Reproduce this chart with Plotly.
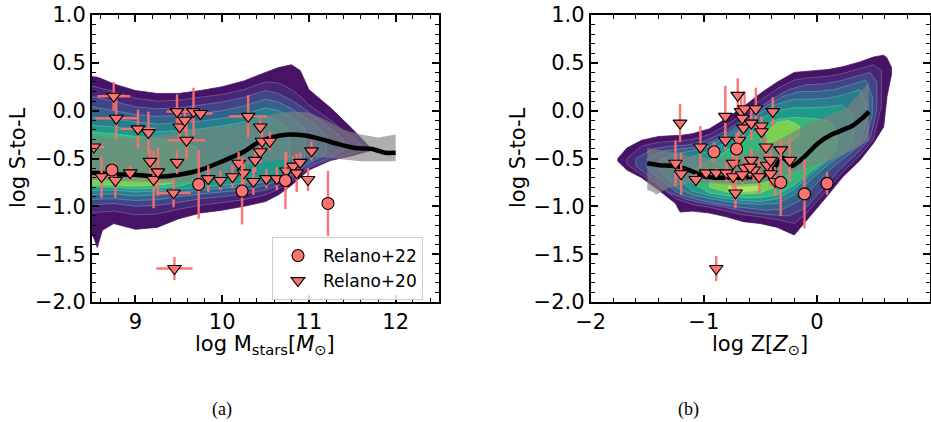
import plotly.graph_objects as go

# ---------------- Panel (a): stellar mass ----------------
A_CIRC_X = [8.73, 9.73, 10.23, 10.73, 11.22]
A_CIRC_Y = [-0.62, -0.77, -0.84, -0.73, -0.97]
A_CIRC_YERR = [0.08, 0.36, 0.35, 0.30, 0.34]

A_TRI_X = [8.52, 8.75, 8.78, 8.61, 8.77, 8.94, 9.03, 9.15, 9.17, 9.21, 9.26, 9.44, 9.48, 9.48,
           9.51, 9.57, 9.59, 9.67, 9.75, 9.84, 9.98, 10.12, 10.19, 10.25, 10.30, 10.36, 10.38,
           10.44, 10.44, 10.46, 10.55, 10.51, 10.63, 10.74, 10.82, 10.86, 10.90, 10.99, 11.03, 9.45]
A_TRI_Y = [-0.38, 0.15, -0.08, -0.69, -0.73, -0.65, -0.19, -0.23, -0.53, -0.72, -0.64, -0.86, -0.54, -0.01,
           -0.17, -0.10, -0.31, -0.01, -0.03, -0.71, -0.73, -0.69, -0.55, -0.65, -0.06, -0.74, -0.52,
           -0.43, -0.17, -0.32, -0.32, -0.71, -0.71, -0.63, -0.58, -0.65, -0.54, -0.72, -0.42, -1.65]
A_TRI_XERR = [0.12, 0.19, 0.24, 0.10, 0.0, 0.0, 0.20, 0.0, 0.0, 0.0, 0.0, 0.20, 0.0, 0.12,
              0.0, 0.08, 0.22, 0.16, 0.14, 0.0, 0.0, 0.0, 0.0, 0.0, 0.22, 0.0, 0.0,
              0.0, 0.0, 0.0, 0.0, 0.0, 0.0, 0.0, 0.0, 0.0, 0.0, 0.0, 0.0, 0.21]
A_TRI_YERR = [0.0, 0.15, 0.22, 0.22, 0.18, 0.08, 0.20, 0.22, 0.12, 0.30, 0.25, 0.15, 0.12, 0.18,
              0.15, 0.12, 0.20, 0.25, 0.05, 0.14, 0.10, 0.12, 0.12, 0.15, 0.22, 0.14, 0.12,
              0.12, 0.08, 0.12, 0.10, 0.10, 0.12, 0.20, 0.10, 0.20, 0.10, 0.12, 0.10, 0.12]

A_MED_X = [8.5, 8.75, 9.0, 9.25, 9.5, 9.75, 10.0, 10.25, 10.4, 10.57, 10.76, 10.96, 11.15, 11.34,
           11.53, 11.73, 11.88, 12.0]
A_MED_Y = [-0.65, -0.665, -0.67, -0.69, -0.67, -0.62, -0.53, -0.43, -0.34, -0.28, -0.25, -0.26,
           -0.30, -0.35, -0.39, -0.40, -0.44, -0.44]

A_BAND_X = [8.5, 8.75, 9.0, 9.25, 9.5, 9.75, 10.0, 10.2, 10.4, 10.6, 10.8, 11.0, 11.2, 11.4, 11.6, 11.8, 12.0]
A_BAND_HI = [-0.27, -0.28, -0.29, -0.26, -0.22, -0.19, -0.17, -0.15, -0.10, -0.03, -0.01, -0.02, -0.10,
             -0.20, -0.25, -0.28, -0.25]
A_BAND_LO = [-0.72, -0.73, -0.74, -0.75, -0.75, -0.73, -0.67, -0.60, -0.55, -0.52, -0.50, -0.49, -0.49,
             -0.51, -0.53, -0.53, -0.53]

# density contour levels (outer -> inner): x, upper edge, lower edge
A_LEV_X = [
    [8.45, 8.53, 8.56, 8.62, 8.75, 9.0, 9.25, 9.5, 9.75, 10.0, 10.25, 10.5, 10.65, 10.8, 10.9, 11.0, 11.25, 11.5, 11.7],
    [8.45, 8.75, 9.0, 9.25, 9.5, 9.75, 10.0, 10.25, 10.5, 10.65, 10.8, 10.9, 11.0, 11.25, 11.45, 11.62],
    [8.45, 8.75, 9.0, 9.25, 9.5, 9.75, 10.0, 10.25, 10.5, 10.65, 10.8, 10.9, 11.0, 11.2, 11.4],
    [8.45, 8.75, 9.0, 9.25, 9.5, 9.75, 10.0, 10.25, 10.5, 10.65, 10.8, 10.9, 11.0, 11.2],
    [8.45, 8.75, 9.0, 9.25, 9.5, 9.75, 10.0, 10.25, 10.5, 10.65, 10.8, 10.95],
    [8.45, 8.75, 9.0, 9.25, 9.5, 9.75, 10.0, 10.25, 10.5, 10.65, 10.78],
    [8.45, 8.75, 9.0, 9.25, 9.5, 9.7],
    [8.45, 8.75, 9.0, 9.25, 9.45],
]
A_LEV_UP = [
    [0.36, 0.35, 0.35, 0.33, 0.28, 0.21, 0.18, 0.18, 0.21, 0.25, 0.31, 0.40, 0.45, 0.48, 0.42, 0.22, 0.03, -0.19, -0.38],
    [0.27, 0.20, 0.13, 0.10, 0.11, 0.14, 0.17, 0.22, 0.30, 0.29, 0.22, 0.15, 0.06, -0.10, -0.25, -0.37],
    [0.16, 0.10, 0.04, 0.02, 0.03, 0.06, 0.09, 0.14, 0.21, 0.18, 0.11, 0.05, -0.02, -0.15, -0.30],
    [0.05, 0.0, -0.04, -0.06, -0.05, -0.03, 0.0, 0.05, 0.12, 0.09, 0.02, -0.04, -0.10, -0.25],
    [-0.06, -0.09, -0.12, -0.14, -0.13, -0.11, -0.08, -0.04, 0.03, 0.0, -0.07, -0.18],
    [-0.15, -0.17, -0.20, -0.22, -0.21, -0.19, -0.16, -0.12, -0.06, -0.10, -0.22],
    [-0.22, -0.24, -0.27, -0.29, -0.31, -0.38],
    [-0.69, -0.70, -0.71, -0.72, -0.73],
]
A_LEV_LO = [
    [-1.20, -1.35, -1.43, -1.25, -1.18, -1.24, -1.22, -1.13, -1.07, -1.04, -1.00, -0.95, -0.88, -0.78, -0.70, -0.62, -0.52, -0.47, -0.42],
    [-1.07, -1.05, -1.09, -1.08, -1.03, -0.99, -0.96, -0.93, -0.88, -0.82, -0.74, -0.67, -0.60, -0.51, -0.46, -0.41],
    [-0.99, -0.97, -1.00, -0.99, -0.96, -0.92, -0.90, -0.87, -0.83, -0.78, -0.71, -0.65, -0.58, -0.51, -0.42],
    [-0.93, -0.92, -0.94, -0.93, -0.90, -0.87, -0.85, -0.83, -0.78, -0.73, -0.67, -0.61, -0.55, -0.45],
    [-0.88, -0.87, -0.89, -0.88, -0.86, -0.83, -0.81, -0.79, -0.74, -0.69, -0.62, -0.50],
    [-0.84, -0.83, -0.85, -0.84, -0.82, -0.80, -0.78, -0.76, -0.71, -0.66, -0.55],
    [-0.80, -0.80, -0.82, -0.81, -0.79, -0.74],
    [-0.78, -0.78, -0.79, -0.78, -0.76],
]
A_LEV_IDX = [0, 1, 2, 3, 4, 5, 6, 7]

# ---------------- Panel (b): metallicity ----------------
B_CIRC_X = [-0.91, -0.71, -0.32, -0.11, 0.09]
B_CIRC_Y = [-0.43, -0.40, -0.75, -0.87, -0.76]
B_CIRC_YERR = [0.10, 0.17, 0.35, 0.36, 0.12]

B_TRI_X = [-1.25, -1.21, -1.20, -1.07, -1.03, -0.98, -0.89, -0.89, -0.81, -0.81, -0.80, -0.74, -0.74,
           -0.72, -0.70, -0.69, -0.67, -0.66, -0.65, -0.64, -0.64, -0.66, -0.58, -0.58, -0.56, -0.54,
           -0.51, -0.49, -0.49, -0.45, -0.44, -0.41, -0.41, -0.39, -0.37, -0.32, -0.24, -0.59]
B_TRI_Y = [-0.55, -0.13, -0.66, -0.72, -0.38, -0.65, -0.65, -1.65, -0.06, -0.31, -0.65, -0.55, -0.69,
           -0.86, 0.16, -0.31, -0.01, -0.08, -0.18, 0.02, -0.60, -0.67, -0.13, -0.52, -0.62, 0.02,
           -0.69, -0.16, -0.22, -0.38, -0.57, -0.66, -0.52, -0.01, -0.74, -0.41, -0.52, -0.59]
B_TRI_YERR = [0.24, 0.20, 0.22, 0.06, 0.22, 0.05, 0.05, 0.13, 0.32, 0.10, 0.10, 0.12, 0.12,
              0.16, 0.18, 0.10, 0.18, 0.12, 0.12, 0.18, 0.12, 0.10, 0.18, 0.12, 0.12, 0.22,
              0.18, 0.10, 0.10, 0.10, 0.12, 0.14, 0.10, 0.15, 0.15, 0.10, 0.22, 0.10]

B_MED_X = [-1.5, -1.39, -1.24, -1.09, -0.99, -0.9, -0.8, -0.65, -0.5, -0.4, -0.31, -0.26, -0.22,
           -0.11, 0.01, 0.13, 0.31, 0.40, 0.46]
B_MED_Y = [-0.55, -0.57, -0.58, -0.64, -0.69, -0.70, -0.70, -0.70, -0.69, -0.64, -0.49, -0.53, -0.58,
           -0.48, -0.34, -0.25, -0.16, -0.08, -0.01]

B_BAND_X = [-1.5, -1.45, -1.42, -1.3, -1.1, -0.9, -0.7, -0.5, -0.3, -0.1, 0.1, 0.25, 0.37, 0.46]
B_BAND_HI = [-0.39, -0.40, -0.41, -0.43, -0.48, -0.50, -0.48, -0.40, -0.28, -0.15, -0.05, 0.02, 0.17, 0.30]
B_BAND_LO = [-0.83, -0.85, -0.88, -0.80, -0.76, -0.76, -0.78, -0.76, -0.68, -0.60, -0.53, -0.45, -0.38, -0.31]

B_LEV_X = [
    [-1.76, -1.68, -1.55, -1.4, -1.25, -1.21, -1.1, -0.95, -0.8, -0.65, -0.5, -0.35, -0.2, -0.1, 0.0, 0.1,
     0.23, 0.38, 0.5, 0.59, 0.62, 0.66],
    [-1.68, -1.55, -1.4, -1.25, -1.1, -0.95, -0.8, -0.65, -0.5, -0.35, -0.2, -0.1, 0.0, 0.1, 0.23, 0.38, 0.5, 0.57],
    [-1.6, -1.45, -1.3, -1.15, -1.0, -0.85, -0.7, -0.55, -0.4, -0.25, -0.1, 0.05, 0.2, 0.35, 0.47, 0.53],
    [-1.5, -1.35, -1.2, -1.05, -0.9, -0.75, -0.6, -0.45, -0.3, -0.15, 0.0, 0.15, 0.3, 0.43, 0.49],
    [-1.4, -1.25, -1.1, -0.95, -0.8, -0.65, -0.5, -0.35, -0.2, -0.05, 0.1, 0.25, 0.38, 0.44],
    [-1.25, -1.1, -0.95, -0.8, -0.65, -0.5, -0.35, -0.2, -0.05, 0.1, 0.22, 0.32],
    [-1.1, -0.95, -0.8, -0.65, -0.5, -0.35, -0.2, -0.05, 0.1, 0.18],
    [-0.95, -0.8, -0.65, -0.5, -0.38],
    [-0.45, -0.35, -0.25, -0.15],
    [-0.78, -0.65, -0.52],
]
B_LEV_UP = [
    [-0.50, -0.39, -0.31, -0.27, -0.26, -0.26, -0.24, -0.19, -0.08, 0.04, 0.18, 0.30, 0.40, 0.41, 0.42, 0.43,
     0.46, 0.51, 0.56, 0.58, 0.55, 0.45],
    [-0.50, -0.37, -0.33, -0.32, -0.30, -0.25, -0.15, -0.03, 0.11, 0.23, 0.32, 0.34, 0.35, 0.36, 0.39, 0.44, 0.48, 0.42],
    [-0.50, -0.40, -0.37, -0.36, -0.32, -0.24, -0.13, 0.0, 0.12, 0.22, 0.27, 0.28, 0.31, 0.36, 0.40, 0.30],
    [-0.50, -0.42, -0.40, -0.38, -0.31, -0.20, -0.08, 0.05, 0.15, 0.20, 0.20, 0.22, 0.27, 0.32, 0.15],
    [-0.52, -0.45, -0.42, -0.37, -0.27, -0.15, -0.02, 0.07, 0.12, 0.12, 0.13, 0.17, 0.22, 0.05],
    [-0.56, -0.48, -0.42, -0.33, -0.21, -0.09, 0.0, 0.03, 0.03, 0.04, 0.06, -0.05],
    [-0.62, -0.52, -0.42, -0.30, -0.18, -0.09, -0.07, -0.08, -0.10, -0.22],
    [-0.74, -0.76, -0.77, -0.76, -0.72],
    [-0.22, -0.12, -0.10, -0.16],
    [-0.79, -0.80, -0.79],
]
B_LEV_LO = [
    [-0.53, -0.62, -0.70, -0.83, -0.97, -1.06, -1.05, -1.07, -1.11, -1.16, -1.18, -1.22, -1.30, -1.15, -1.02, -0.88,
     -0.69, -0.52, -0.34, -0.17, 0.15, 0.38],
    [-0.56, -0.67, -0.78, -0.92, -0.98, -1.01, -1.05, -1.09, -1.11, -1.14, -1.18, -1.08, -0.95, -0.82, -0.64, -0.47, -0.30, 0.05],
    [-0.58, -0.72, -0.86, -0.93, -0.97, -1.00, -1.04, -1.07, -1.09, -1.10, -1.02, -0.82, -0.62, -0.45, -0.30, 0.0],
    [-0.60, -0.76, -0.88, -0.93, -0.97, -1.00, -1.02, -1.04, -1.03, -0.94, -0.76, -0.58, -0.44, -0.30, -0.05],
    [-0.62, -0.80, -0.88, -0.92, -0.95, -0.97, -0.98, -0.97, -0.88, -0.72, -0.56, -0.44, -0.32, -0.12],
    [-0.68, -0.84, -0.89, -0.92, -0.94, -0.95, -0.92, -0.82, -0.66, -0.52, -0.44, -0.32],
    [-0.76, -0.86, -0.89, -0.91, -0.91, -0.88, -0.78, -0.63, -0.50, -0.40],
    [-0.80, -0.85, -0.87, -0.86, -0.80],
    [-0.34, -0.36, -0.34, -0.26],
    [-0.83, -0.845, -0.83],
]
B_LEV_IDX = [0, 1, 2, 3, 4, 5, 6, 7, 7, 8]

LEVEL_COLORS = ['#471365', '#482677', '#404588', '#33638d', '#277f8e', '#1f9a8a',
                '#35b779', '#7ad151', '#b8de5a']

X_TICKS_A = [9, 10, 11, 12]
X_TICKS_B = [-2, -1, 0, 1]
Y_TICKS = [-2.0, -1.5, -1.0, -0.5, 0.0, 0.5, 1.0]

SALMON = '#fa7272'
BAR = 'rgba(250,110,110,0.95)'

fig = go.Figure()


def add_panel(xa, ya, lev_x, lev_up, lev_lo, lev_idx, band_x, band_hi, band_lo, med_x, med_y,
              cx, cy, cyerr, tx, ty, txerr, tyerr, legend):
    for xs, up, lo, k in zip(lev_x, lev_up, lev_lo, lev_idx):
        fig.add_trace(go.Scatter(
            x=list(xs) + list(xs)[::-1] + [xs[0]], y=list(up) + list(lo)[::-1] + [up[0]],
            xaxis=xa, yaxis=ya, mode='lines', fill='toself', fillcolor=LEVEL_COLORS[k],
            line=dict(color='rgba(255,255,255,0.28)' if k > 0 else LEVEL_COLORS[0], width=0.8),
            showlegend=False, hoverinfo='skip'))
    fig.add_trace(go.Scatter(
        x=list(band_x) + list(band_x)[::-1], y=list(band_hi) + list(band_lo)[::-1],
        xaxis=xa, yaxis=ya, mode='lines', fill='toself', fillcolor='rgba(128,128,128,0.64)',
        line=dict(width=0), showlegend=False, hoverinfo='skip'))
    fig.add_trace(go.Scatter(x=med_x, y=med_y, xaxis=xa, yaxis=ya, mode='lines',
                             line=dict(color='black', width=4.5, shape='spline', smoothing=0.6),
                             showlegend=False, hoverinfo='skip'))
    fig.add_trace(go.Scatter(
        x=tx, y=ty, xaxis=xa, yaxis=ya, mode='markers', name='Relano+20',
        error_x=dict(type='data', array=txerr, color=BAR, thickness=2.4, width=0, visible=True),
        error_y=dict(type='data', array=tyerr, color=BAR, thickness=2.4, width=0, visible=True),
        marker=dict(symbol='triangle-down', size=12, color=SALMON, line=dict(color='black', width=1.1)),
        showlegend=legend, legendrank=2))
    fig.add_trace(go.Scatter(
        x=cx, y=cy, xaxis=xa, yaxis=ya, mode='markers', name='Relano+22',
        error_y=dict(type='data', array=cyerr, color=BAR, thickness=2.4, width=0, visible=True),
        marker=dict(symbol='circle', size=12, color=SALMON, line=dict(color='black', width=1.1)),
        showlegend=legend, legendrank=1))


add_panel('x', 'y', A_LEV_X, A_LEV_UP, A_LEV_LO, A_LEV_IDX, A_BAND_X, A_BAND_HI, A_BAND_LO,
          A_MED_X, A_MED_Y, A_CIRC_X, A_CIRC_Y, A_CIRC_YERR, A_TRI_X, A_TRI_Y, A_TRI_XERR, A_TRI_YERR, True)
add_panel('x2', 'y2', B_LEV_X, B_LEV_UP, B_LEV_LO, B_LEV_IDX, B_BAND_X, B_BAND_HI, B_BAND_LO,
          B_MED_X, B_MED_Y, B_CIRC_X, B_CIRC_Y, B_CIRC_YERR, B_TRI_X, B_TRI_Y,
          [0.0] * len(B_TRI_X), B_TRI_YERR, False)

FONT = 'DejaVu Sans'
W, H = 931, 422


def axis_common(minor_dtick):
    return dict(showline=True, linecolor='black', linewidth=1.8, mirror='allticks',
                ticks='inside', ticklen=7, tickwidth=1.6, tickcolor='black',
                showgrid=False, zeroline=False, automargin=False,
                tickfont=dict(family=FONT, size=21, color='black'),
                minor=dict(ticks='inside', dtick=minor_dtick, ticklen=4, tickwidth=1.2,
                           tickcolor='black', showgrid=False))


ydom = [1 - 302 / H, 1 - 15 / H]
fig.update_layout(
    width=W, height=H, margin=dict(l=0, r=0, t=0, b=0),
    paper_bgcolor='white', plot_bgcolor='white',
    font=dict(family=FONT, color='black'),
    xaxis=dict(domain=[92 / W, 439 / W], range=[8.5, 12.5], tickvals=X_TICKS_A, **axis_common(0.2)),
    yaxis=dict(domain=ydom, range=[-2, 1], tickvals=Y_TICKS, tickformat='.1f', anchor='x',
               **axis_common(0.1)),
    xaxis2=dict(domain=[590.7 / W, 930 / W], range=[-2, 1], tickvals=X_TICKS_B, anchor='y2',
                **axis_common(0.2)),
    yaxis2=dict(domain=ydom, range=[-2, 1], tickvals=Y_TICKS, tickformat='.1f', anchor='x2',
                **axis_common(0.1)),
    legend=dict(x=272 / W, y=1 - 237 / H, xanchor='left', yanchor='top',
                bgcolor='rgba(255,255,255,0.85)', bordercolor='#cccccc', borderwidth=1,
                font=dict(family=FONT, size=17, color='black'), itemwidth=40,
                traceorder='normal', tracegroupgap=0),
    showlegend=True,
)

ann = [
    dict(text='log S-to-L', x=18 / W, y=1 - 158 / H, textangle=-90, size=21, fam=FONT, ya='middle'),
    dict(text='log S-to-L', x=518 / W, y=1 - 158 / H, textangle=-90, size=21, fam=FONT, ya='middle'),
    dict(text='log M<sub>stars</sub>[<i>M</i><sub>⊙</sub>]', x=265 / W, y=1 - 330 / H, textangle=0,
         size=21, fam=FONT, ya='top'),
    dict(text='log Z[<i>Z</i><sub>⊙</sub>]', x=760 / W, y=1 - 330 / H, textangle=0, size=21, fam=FONT,
         ya='top'),
    dict(text='(a)', x=222 / W, y=1 - 409 / H, textangle=0, size=18, fam='Liberation Serif', ya='middle'),
    dict(text='(b)', x=688 / W, y=1 - 409 / H, textangle=0, size=18, fam='Liberation Serif', ya='middle'),
]
for a in ann:
    fig.add_annotation(text=a['text'], x=a['x'], y=a['y'], xref='paper', yref='paper',
                       showarrow=False, textangle=a['textangle'], xanchor='center', yanchor=a['ya'],
                       font=dict(family=a['fam'], size=a['size'], color='black'))

fig.write_html('out.html')
